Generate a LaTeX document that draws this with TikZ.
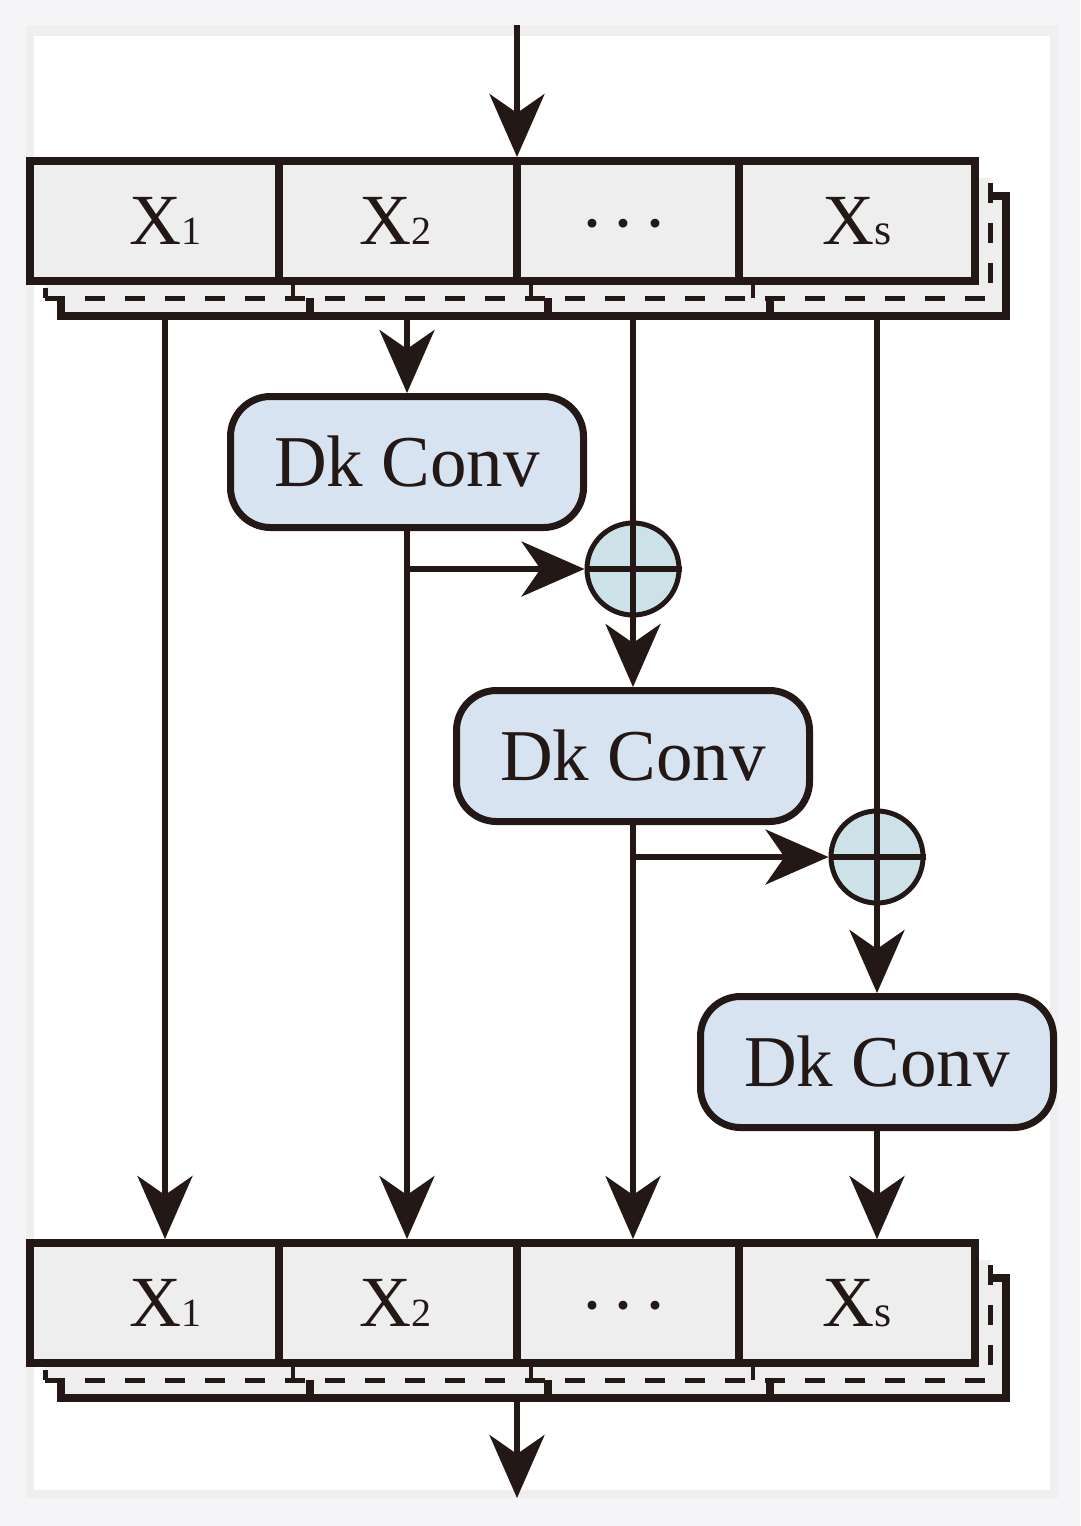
\documentclass[tikz,border=0pt]{standalone}
\usepackage{fontspec}
\setmainfont{Liberation Serif}
\usetikzlibrary{arrows.meta,positioning,calc}

\definecolor{ink}{HTML}{231815}
\definecolor{cellgray}{HTML}{EEEEEE}
\definecolor{convblue}{HTML}{D7E3F1}
\definecolor{sumblue}{HTML}{CDE2E8}
\definecolor{framegray}{HTML}{EFEFEF}
\definecolor{shadegray}{HTML}{F5F5F7}

\begin{document}
\begin{tikzpicture}[x=1pt, y=-1pt,
  every node/.style={inner sep=0pt, text=ink},
  layer/.style={draw=ink, fill=cellgray, line width=8pt,
    minimum width=945pt, minimum height=120pt},
  layer dashed/.style={layer, line width=5pt, dash pattern=on 20pt off 20pt},
  conv/.style={draw=ink, fill=convblue, line width=7pt, rounded corners=40pt,
    minimum width=353pt, minimum height=131pt, font=\fontsize{73}{80}\selectfont},
  sum/.style={circle, draw=ink, fill=sumblue, line width=5pt, minimum size=92pt},
  cell/.style={font=\fontsize{72}{80}\selectfont},
  arr/.style={color=ink, line width=5.5pt, -{Stealth[length=63pt, width=55pt, inset=19pt]}},
  link/.style={color=ink, line width=5.5pt}
]
% frame of the screenshot
\fill[shadegray] (0,0) rectangle (1080,1526);
\useasboundingbox (0,0) rectangle (1080,1526);
\fill[framegray] (26,25) rectangle (1058,1498);
\fill[white] (34,36) rectangle (1050,1490);

% stacked feature maps, back to front
\foreach \row/\yy in {top/221, bot/1303} {
  \node[layer]        (\row3) at (533.5,\yy+35) {};
  \foreach \xx in {279,517,739}
    \draw[ink, line width=8pt] (\xx+31,\yy-25) -- (\xx+31,\yy+95);
  \node[layer dashed] (\row2) at (517.5,\yy+17) {};
  \foreach \xx in {279,517,739}
    \draw[ink, line width=4pt] (\xx+14,\yy-43) -- (\xx+14,\yy+77);
  \node[layer]        (\row1) at (502.5,\yy) {};
  \foreach \xx in {279,517,739}
    \draw[ink, line width=8pt] (\xx,\yy-60) -- (\xx,\yy+60);
  \node[cell] (\row-x1) at (165,\yy) {X{\fontsize{40}{42}\selectfont 1}};
  \node[cell] (\row-x2) at (395,\yy) {X{\fontsize{40}{42}\selectfont 2}};
  \node[cell, font=\bfseries\fontsize{54}{60}\selectfont] (\row-xd) at (624,\yy+9) {· · ·};
  \node[cell] (\row-xs) at (857,\yy) {X{\fontsize{44}{46}\selectfont s}};
}

\node[conv] (conv1) at (407,462)  {Dk Conv};
\node[sum]  (sum1)  at (633,569)  {};
\node[conv] (conv2) at (633,756)  {Dk Conv};
\node[sum]  (sum2)  at (877,857)  {};
\node[conv] (conv3) at (877,1062) {Dk Conv};

\coordinate (inpt)  at (517,25);
\coordinate (outpt) at (517,1498);

\path[link]
  (top3.south -| sum1) edge (sum1.south)
  (sum1.west)          edge (sum1.east)
  (top3.south -| sum2) edge (sum2.south)
  (sum2.west)          edge (sum2.east)
; %-plus-%
\path[arr]
  (inpt)                 edge (inpt |- top1.north)
  (top3.south -| top-x1) edge (bot1.north -| top-x1)
  (top3.south -| conv1)  edge (conv1.north)
  (conv1.south)          edge (conv1 |- bot1.north)
  (conv1 |- sum1)        edge (sum1.west)
  (sum1.south)           edge (conv2.north)
  (conv2.south)          edge (conv2 |- bot1.north)
  (conv2 |- sum2)        edge (sum2.west)
  (sum2.south)           edge (conv3.north)
  (conv3.south)          edge (conv3 |- bot1.north)
  (bot3.south -| inpt)   edge (outpt)
; %-arrows-%
\end{tikzpicture}
\end{document}
